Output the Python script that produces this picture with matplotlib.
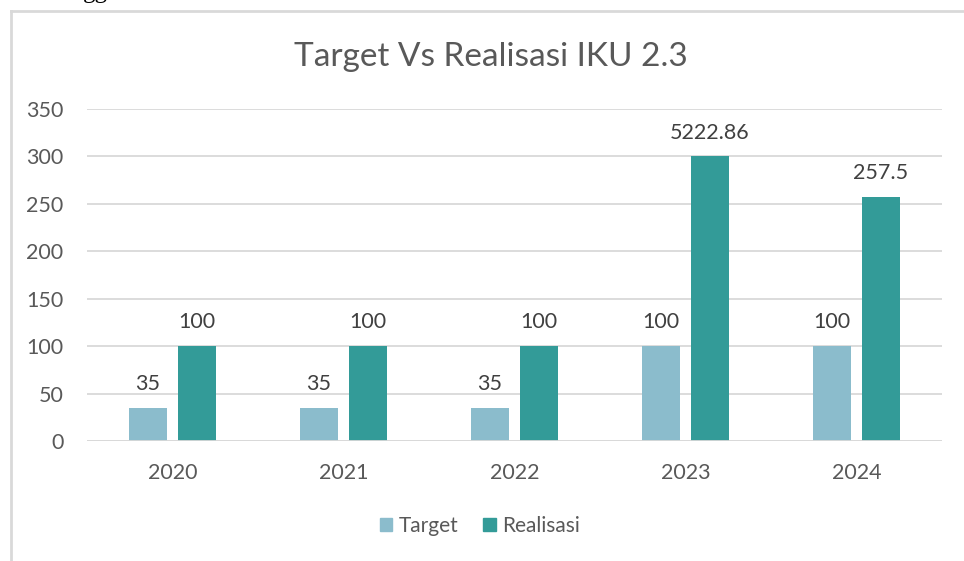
import numpy as np
import matplotlib
matplotlib.use('Agg')
import matplotlib.pyplot as plt
from matplotlib.lines import Line2D
from matplotlib.patches import Patch

# 数据
years = ['2020', '2021', '2022', '2023', '2024']
target = [35, 35, 35, 100, 100]
realisasi = [100, 100, 100, 300, 257.5]  # 2023 bar drawn at axis scale, label shows real value
target_labels = ['35', '35', '35', '100', '100']
realisasi_labels = ['100', '100', '100', '5222.86', '257.5']

c_target = '#8BBCCC'
c_real = '#339B98'
grid_c = '#D9D9D9'
txt_c = '#595959'

plt.rcParams['font.family'] = ['Lato', 'DejaVu Sans']

W, H = 964, 561
fig = plt.figure(figsize=(W / 100, H / 100), dpi=100)
ax = fig.add_axes([87 / W, 1 - 441 / H, (942 - 87) / W, (441 - 109) / H])

x = np.arange(len(years))
bw = 0.222
off = 0.143
b1 = ax.bar(x - off, target, width=bw, color=c_target, zorder=3)
b2 = ax.bar(x + off, realisasi, width=bw, color=c_real, zorder=3)

for bars, labs in ((b1, target_labels), (b2, realisasi_labels)):
    for rect, lab in zip(bars, labs):
        ax.annotate(lab, (rect.get_x() + rect.get_width() / 2, rect.get_height()),
                    xytext=(0, 10), textcoords='offset points',
                    ha='center', va='bottom', fontsize=15.5, color='#404040')

ax.set_xlim(-0.5, len(years) - 0.5)
ax.set_ylim(0, 350)
ax.set_yticks(np.arange(0, 351, 50))
ax.set_xticks(x)
ax.set_xticklabels(years)
ax.tick_params(axis='both', length=0, labelsize=15.5, labelcolor=txt_c)
ax.tick_params(axis='x', pad=16)
ax.tick_params(axis='y', pad=17)
ax.yaxis.grid(True, color=grid_c, linewidth=1.3, zorder=0)
for s in ax.spines.values():
    s.set_visible(False)
ax.axhline(0, color=grid_c, linewidth=1.3, zorder=4)

fig.text(491 / W, 1 - 57 / H, 'Target Vs Realisasi IKU 2.3', ha='center', va='center',
         fontsize=24, color=txt_c)

handles = [Patch(color=c_target, label='Target'), Patch(color=c_real, label='Realisasi')]
fig.legend(handles=handles, loc='center', bbox_to_anchor=(480 / W, 1 - 526 / H), ncol=2,
           frameon=False, fontsize=15, handlelength=0.6, handleheight=0.6,
           handletextpad=0.3, columnspacing=1.2, labelcolor=txt_c)

# chart frame (left and top edges visible)
fig.add_artist(Line2D([11 / W, 11 / W], [0, 1 - 11 / H], color=grid_c, linewidth=2))
fig.add_artist(Line2D([11 / W, 1], [1 - 11 / H, 1 - 11 / H], color=grid_c, linewidth=2))
# cut-off document text above the chart
fig.text(95 / W, 1 + 8 / H, 'gg', ha='center', va='center', fontsize=18,
         family='Liberation Serif', color='black')

fig.savefig('out.png', dpi=100)
